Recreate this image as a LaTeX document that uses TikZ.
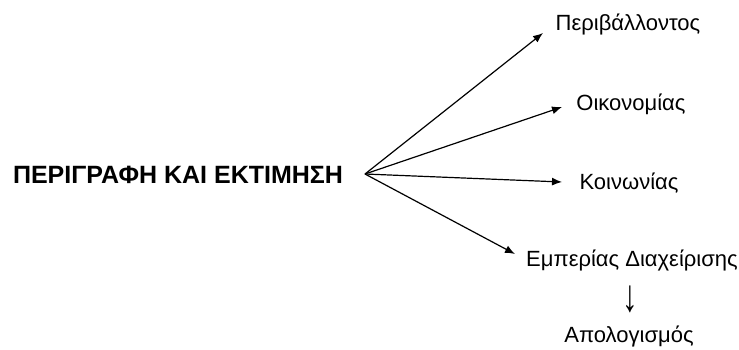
\documentclass[tikz,border=0pt]{standalone}
\usepackage{fontspec}
\setmainfont{Liberation Sans}
\usetikzlibrary{arrows.meta}
\begin{document}
\begin{tikzpicture}[x=1pt,y=-1pt,
  lbl/.style={inner sep=0pt,font=\fontsize{22}{24}\selectfont},
  ttl/.style={inner sep=0pt,font=\fontsize{25}{28}\selectfont\bfseries},
  conn/.style={line width=1.2pt,-{Latex[length=10pt,width=8pt]}}]
\useasboundingbox (0,0) rectangle (739,349);
\node[ttl] (t) at (178,175) {ΠΕΡΙΓΡΑΦΗ ΚΑΙ ΕΚΤΙΜΗΣΗ};
\coordinate (c) at (365,174);
\node[lbl] (a) at (628,24) {Περιβάλλοντος};
\node[lbl] (b) at (631,104) {Οικονομίας};
\node[lbl] (k) at (629,183) {Κοινωνίας};
\node[lbl] (e) at (632,260) {Εμπερίας Διαχείρισης};
\node[lbl,font=\fontsize{26}{28}\selectfont] (d) at (630,299) {\scalebox{1.2}[1.75]{↓}};
\node[lbl] (p) at (629,336) {Απολογισμός};
\coordinate (ta) at (543,33);
\coordinate (tb) at (562,107);
\coordinate (tk) at (562,182);
\coordinate (te) at (515,254);
\draw[conn] (c) -- (ta);
\draw[conn] (c) -- (tb);
\draw[conn] (c) -- (tk);
\draw[conn] (c) -- (te);
\end{tikzpicture}
\end{document}
